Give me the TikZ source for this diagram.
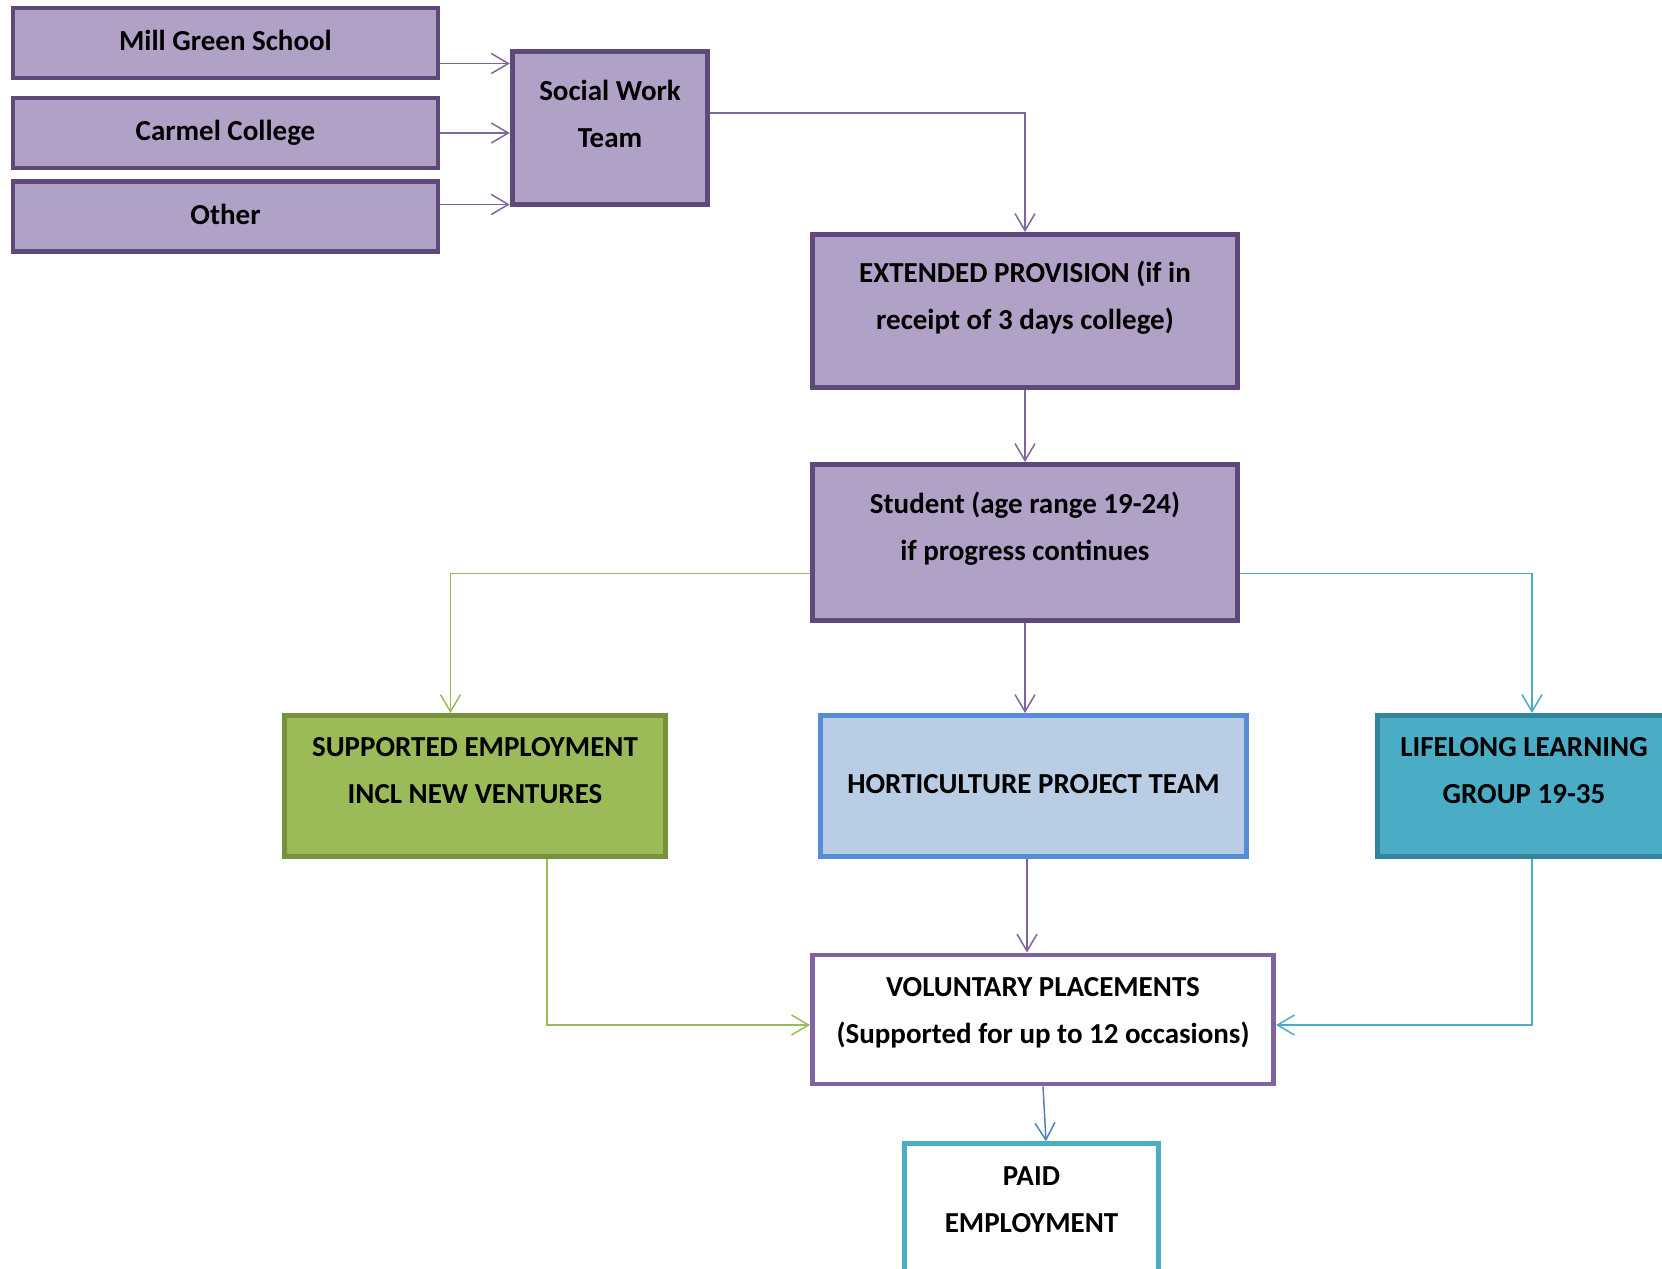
\documentclass[tikz,border=0pt]{standalone}
\usepackage{fontspec}
\setmainfont{Carlito}
\usetikzlibrary{arrows.meta}

\definecolor{purplefill}{HTML}{B2A1C7}
\definecolor{purpleedge}{HTML}{5F497A}
\definecolor{purpleline}{HTML}{8064A2}
\definecolor{greenfill}{HTML}{9BBB59}
\definecolor{greenedge}{HTML}{76923C}
\definecolor{bluefill}{HTML}{B9CDE5}
\definecolor{blueedge}{HTML}{558ED5}
\definecolor{bluearrow}{HTML}{4F81BD}
\definecolor{aquafill}{HTML}{4BACC6}
\definecolor{aquaedge}{HTML}{31859C}

\begin{document}
\begin{tikzpicture}
  [>={Straight Barb[length=0.34cm,width=0.4cm]},
   box/.style={draw,line width=2.8pt,inner sep=0pt},
   lilac/.style={box,draw=purpleedge,fill=purplefill},
   boxtext/.style={align=center,font=\bfseries\fontsize{16.5}{26.7}\selectfont},
   link/.style={->,line width=0.85pt}]

  \useasboundingbox (0,0) rectangle (33.24,-25.38);

  % boxes
  \node[lilac,minimum width=8.5cm,minimum height=1.40cm] (mill) at (4.51,-0.86) {};
  \node[lilac,minimum width=8.5cm,minimum height=1.40cm] (carmel) at (4.51,-2.66) {};
  \node[lilac,minimum width=8.5cm,minimum height=1.40cm] (other) at (4.51,-4.33) {};
  \node[lilac,minimum width=3.91cm,minimum height=3.05cm] (swt) at (12.20,-2.56) {};
  \node[lilac,minimum width=8.5cm,minimum height=3.06cm] (ext) at (20.50,-6.22) {};
  \node[lilac,minimum width=8.5cm,minimum height=3.12cm] (student) at (20.50,-10.85) {};
  \node[box,draw=greenedge,fill=greenfill,minimum width=7.62cm,minimum height=2.82cm] (supp) at (9.50,-15.72) {};
  \node[box,draw=blueedge,fill=bluefill,minimum width=8.52cm,minimum height=2.82cm] (hort) at (20.67,-15.72) {};
  \node[box,draw=aquaedge,fill=aquafill,minimum width=5.94cm,minimum height=2.82cm] (life) at (30.52,-15.72) {};
  \node[box,draw=purpleline,fill=white,minimum width=9.22cm,minimum height=2.58cm] (vol) at (20.86,-20.39) {};
  \node[box,draw=aquafill,fill=white,minimum width=5.08cm,minimum height=3.13cm] (paid) at (20.63,-24.44) {};

  % texts
  \node[boxtext] (mill-t) at ([yshift=0.06cm]mill.center) {Mill Green School};
  \node[boxtext] (carmel-t) at (carmel.center) {Carmel College};
  \node[boxtext] (other-t) at ([yshift=0.05cm]other.center) {Other};
  \node[boxtext] (swt-t) at ([yshift=0.29cm]swt.center) {Social Work\\Team};
  \node[boxtext] (ext-t) at ([yshift=0.27cm]ext.center) {EXTENDED PROVISION (if in\\receipt of 3 days college)};
  \node[boxtext] (student-t) at ([yshift=0.27cm]student.center) {Student (age range 19-24)\\if progress continues};
  \node[boxtext] (supp-t) at ([yshift=0.31cm]supp.center) {SUPPORTED EMPLOYMENT\\INCL NEW VENTURES};
  \node[boxtext] (hort-t) at ([yshift=0.03cm]hort.center) {HORTICULTURE PROJECT TEAM};
  \node[boxtext] (life-t) at ([yshift=0.31cm,xshift=-0.04cm]life.center) {LIFELONG LEARNING\\GROUP 19-35};
  \node[boxtext] (vol-t) at ([yshift=0.14cm]vol.center) {VOLUNTARY PLACEMENTS\\(Supported for up to 12 occasions)};
  \node[boxtext] (paid-t) at ([yshift=0.44cm]paid.center) {PAID\\EMPLOYMENT};

  % connectors
  \coordinate (mill-out) at ([yshift=-0.41cm]mill.east);
  \draw[link,purpleline] (mill-out) -- (mill-out -| swt.west);
  \draw[link,purpleline] (carmel.east) -- (carmel.east -| swt.west);
  \coordinate (other-out) at ([yshift=0.24cm]other.east);
  \draw[link,purpleline] (other-out) -- (other-out -| swt.west);
  \coordinate (swt-out) at ([yshift=0.30cm]swt.east);
  \draw[link,purpleline] (swt-out) -| (ext.north);
  \draw[link,purpleline] (ext.south) -- (student.north);

  \coordinate (stu-left) at ([yshift=-0.62cm]student.west);
  \coordinate (stu-right) at ([yshift=-0.62cm]student.east);
  \coordinate (supp-in) at ([xshift=-0.49cm]supp.north);
  \coordinate (life-in) at ([xshift=0.12cm]life.north);
  \draw[link,greenfill] (stu-left) -| (supp-in);
  \draw[link,aquafill] (stu-right) -| (life-in);
  \draw[link,purpleline] (student.south) -- (student.south |- hort.north);

  \coordinate (hort-out) at ([xshift=-0.13cm]hort.south);
  \draw[link,purpleline] (hort-out) -- (hort-out |- vol.north);
  \coordinate (vol-left) at ([yshift=-0.11cm]vol.west);
  \coordinate (vol-right) at ([yshift=-0.11cm]vol.east);
  \coordinate (supp-out) at ([xshift=1.44cm]supp.south);
  \draw[link,greenfill] (supp-out) |- (vol-left);
  \coordinate (life-out) at ([xshift=0.12cm]life.south);
  \draw[link,aquafill] (life-out) |- (vol-right);
  \draw[link,bluearrow] (vol.south) -- ([xshift=0.29cm]paid.north);

\end{tikzpicture}
\end{document}
